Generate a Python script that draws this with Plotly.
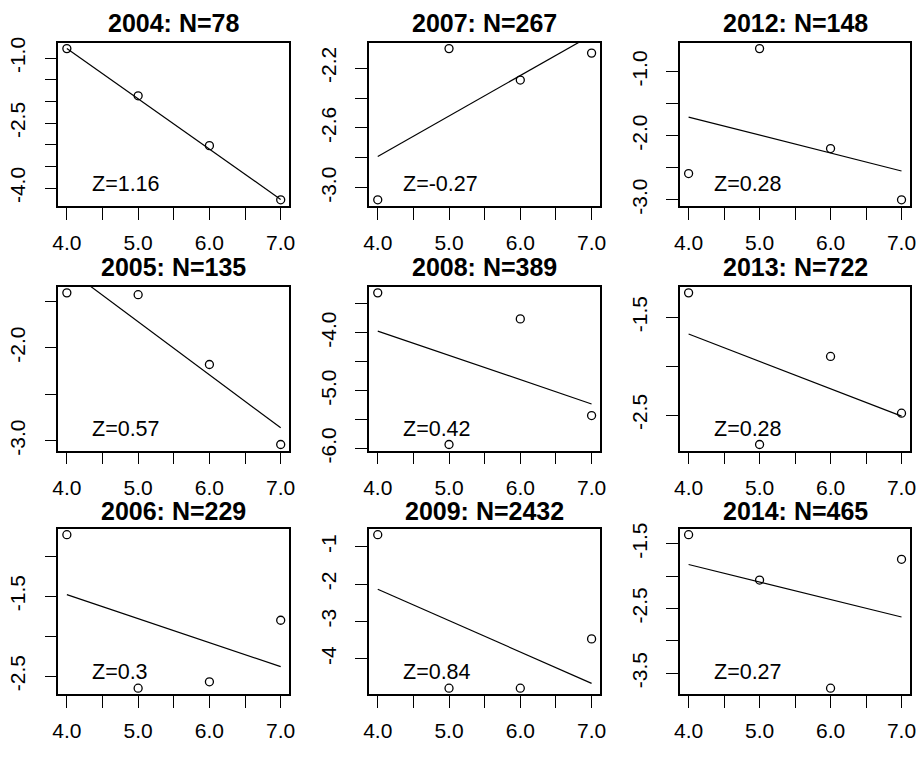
import plotly.graph_objects as go

# Panels in column-major order (first column 2004-2006, second 2007-2009, third 2012-2014)
years = [2004, 2005, 2006, 2007, 2008, 2009, 2012, 2013, 2014]
n_obs = [78, 135, 229, 267, 389, 2432, 148, 722, 465]
z_score = [1.16, 0.57, 0.3, -0.27, 0.42, 0.84, 0.28, 0.28, 0.27]

# Predictor levels on the x axis
x_levels = [4, 5, 6, 7]

# Observed values at each level, one list per year
y_2004 = [-0.78, -1.87, -3.02, -4.27]
y_2005 = [-1.41, -1.43, -2.18, -3.04]
y_2006 = [-0.73, -2.65, -2.57, -1.80]
y_2007 = [-3.08, -2.07, -2.28, -2.10]
y_2008 = [-3.31, -5.93, -3.76, -5.43]
y_2009 = [-0.68, -4.79, -4.79, -3.47]
y_2012 = [-2.59, -0.64, -2.20, -3.00]
y_2013 = [-1.25, -2.80, -1.90, -2.48]
y_2014 = [-1.36, -2.06, -3.73, -1.74]
observed = [y_2004, y_2005, y_2006, y_2007, y_2008, y_2009, y_2012, y_2013, y_2014]

# Fitted value at x = 4; the fitted slope is -Z
fit_at_4 = [-0.78, -1.15, -1.48, -2.79, -3.97, -2.14, -1.71, -1.67, -1.82]

# Axis ticks
x_ticks = [4.0, 4.5, 5.0, 5.5, 6.0, 6.5, 7.0]
x_tick_text = ["4.0", "", "5.0", "", "6.0", "", "7.0"]

y_ticks = [
    [-1.0, -1.5, -2.0, -2.5, -3.0, -3.5, -4.0],
    [-1.5, -2.0, -2.5, -3.0],
    [-1.0, -1.5, -2.0, -2.5],
    [-2.2, -2.4, -2.6, -2.8, -3.0],
    [-3.5, -4.0, -4.5, -5.0, -5.5, -6.0],
    [-1, -2, -3, -4],
    [-1.0, -1.5, -2.0, -2.5, -3.0],
    [-1.5, -2.0, -2.5],
    [-1.5, -2.0, -2.5, -3.0, -3.5],
]
y_tick_text = [
    ["-1.0", "", "", "-2.5", "", "", "-4.0"],
    ["", "-2.0", "", "-3.0"],
    ["", "-1.5", "", "-2.5"],
    ["-2.2", "", "-2.6", "", "-3.0"],
    ["", "-4.0", "", "-5.0", "", "-6.0"],
    ["-1", "-2", "-3", "-4"],
    ["-1.0", "", "-2.0", "", "-3.0"],
    ["-1.5", "", "-2.5"],
    ["-1.5", "", "-2.5", "", "-3.5"],
]

W, H = 919, 759
col_px = [(53, 287), (368, 602), (683, 916)]
row_px = [(37.5, 205), (288, 456), (536, 706)]
title_px = [17, 268, 518]

FONT = "Arial, Liberation Sans, sans-serif"


def padded(lo, hi, frac=0.04):
    span = hi - lo
    return [lo - frac * span, hi + frac * span]


fig = go.Figure()
annotations = []

for i, yr in enumerate(years):
    col, row = divmod(i, 3)
    k = i + 1
    xa = "x" if k == 1 else f"x{k}"
    ya = "y" if k == 1 else f"y{k}"
    ys = observed[i]

    # regression line from x = 4 to x = 7
    x_line = [x_levels[0], x_levels[-1]]
    y_line = [fit_at_4[i] - z_score[i] * (x - x_levels[0]) for x in x_line]
    fig.add_trace(go.Scatter(
        x=x_line, y=y_line, mode="lines",
        line=dict(color="black", width=1.2),
        xaxis=xa, yaxis=ya, showlegend=False, hoverinfo="skip",
    ))
    fig.add_trace(go.Scatter(
        x=x_levels, y=ys, mode="markers",
        marker=dict(symbol="circle-open", size=8, color="black",
                    line=dict(width=1.3)),
        cliponaxis=False, xaxis=xa, yaxis=ya, showlegend=False,
    ))

    x0, x1 = col_px[col]
    t0, t1 = row_px[row]
    axis_common = dict(
        showgrid=False, zeroline=False, showline=True, mirror=True,
        linecolor="black", linewidth=1.5,
        ticks="outside", ticklen=12, tickwidth=1.3, tickcolor="black",
        tickfont=dict(family=FONT, size=21, color="black"),
    )
    fig.layout[f"xaxis{k}" if k > 1 else "xaxis"] = dict(
        domain=[x0 / W, x1 / W], anchor=ya,
        range=padded(x_levels[0], x_levels[-1]),
        tickmode="array", tickvals=x_ticks, ticktext=x_tick_text,
        ticklabelstandoff=5,
        **axis_common,
    )
    fig.layout[f"yaxis{k}" if k > 1 else "yaxis"] = dict(
        domain=[1 - t1 / H, 1 - t0 / H], anchor=xa,
        range=padded(min(ys), max(ys)),
        tickmode="array", tickvals=y_ticks[i], ticktext=y_tick_text[i],
        tickangle=-90, ticklabelstandoff=11,
        **axis_common,
    )

    annotations.append(dict(
        text=f"<b>{yr}: N={n_obs[i]}</b>",
        xref=f"{xa} domain", yref="paper", x=0.5, y=1 - title_px[row] / H,
        xanchor="center", yanchor="middle", showarrow=False,
        font=dict(family=FONT, size=25, color="black"),
    ))
    annotations.append(dict(
        text=f"Z={z_score[i]:g}",
        xref=xa, yref=f"{ya} domain", x=4.33, y=0.134,
        xanchor="left", yanchor="middle", showarrow=False,
        font=dict(family=FONT, size=21.5, color="black"),
    ))

fig.update_layout(
    width=W, height=H, margin=dict(l=0, r=0, t=0, b=0),
    paper_bgcolor="white", plot_bgcolor="white",
    annotations=annotations,
)

fig.write_html("out.html")
